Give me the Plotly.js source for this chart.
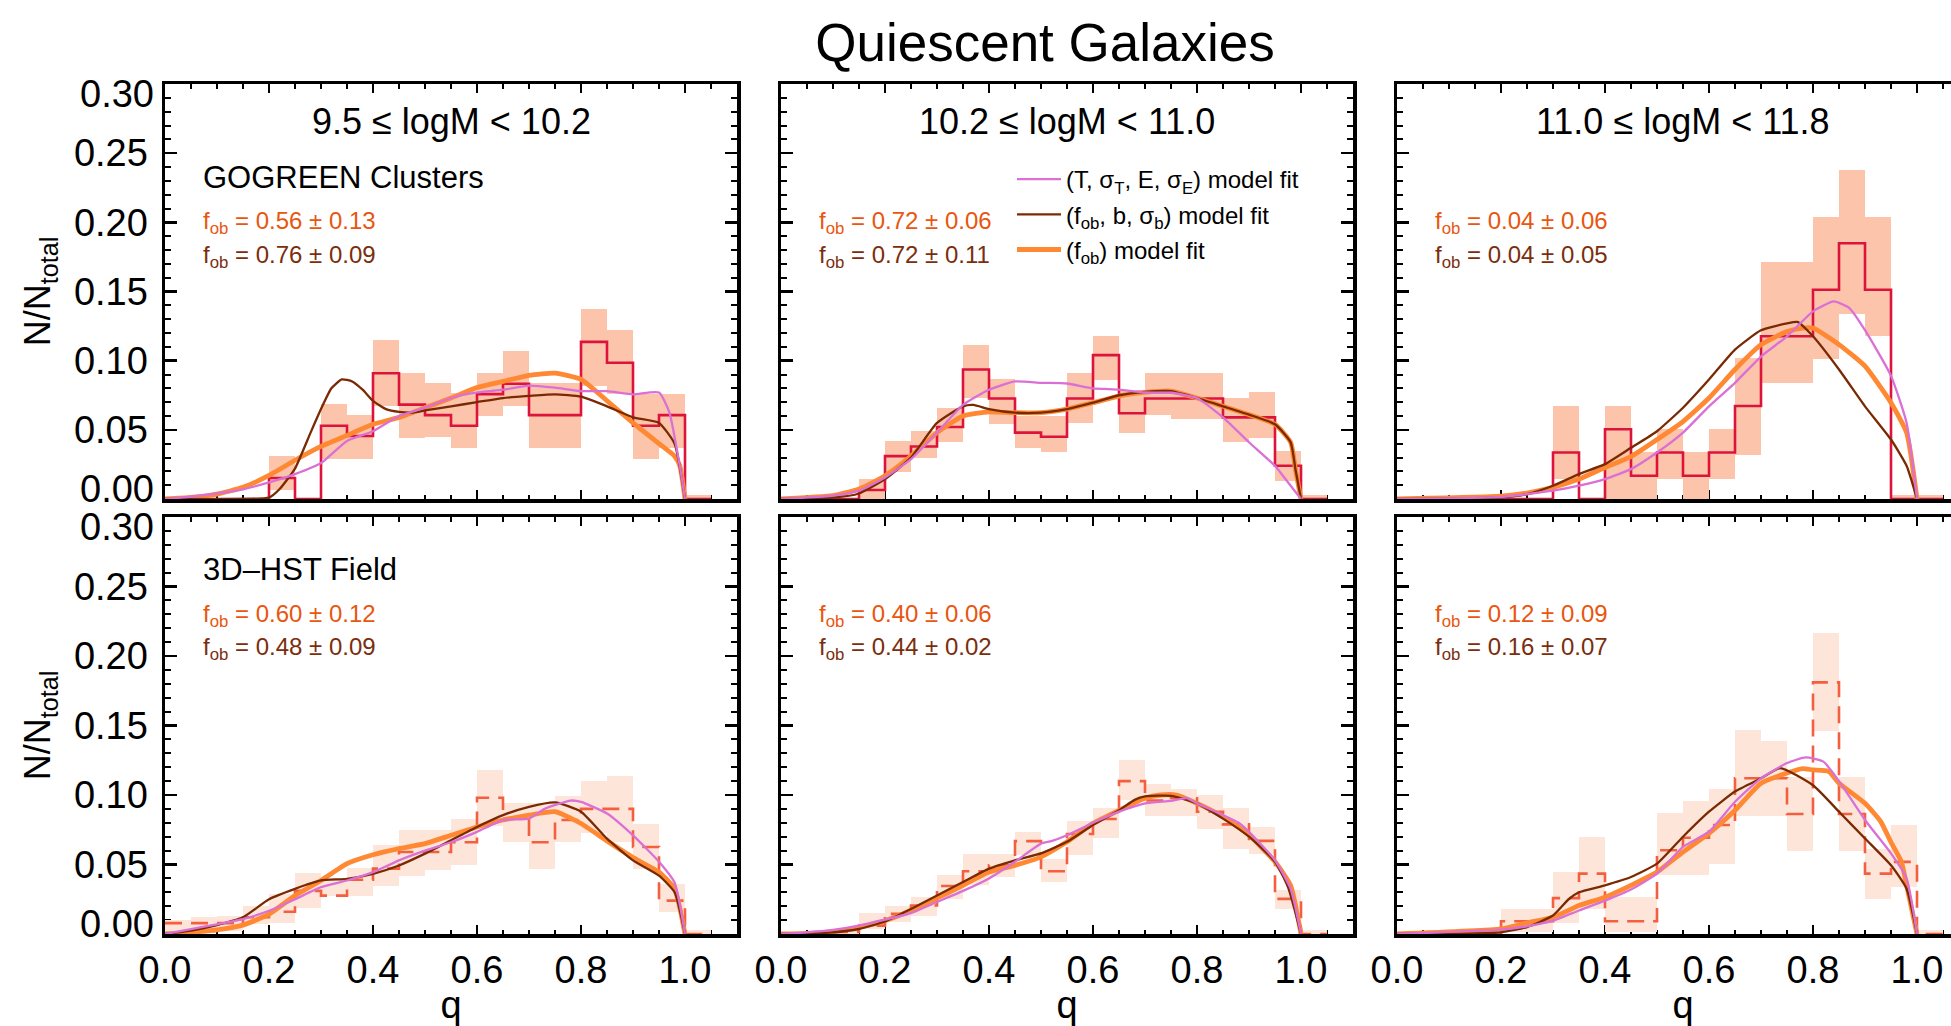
<!DOCTYPE html>
<html>
<head>
<meta charset="utf-8">
<script src="https://cdn.plot.ly/plotly-3.0.1.min.js"></script>
<style>
  html, body { margin: 0; padding: 0; overflow: hidden; background: #ffffff; }
  #chart { width: 1975px; height: 1026px; }
</style>
</head>
<body>
<div id="chart"></div>
<script>
// ---------------- data ----------------
// left edges of the axis-ratio bins (width 0.05)
const binLeft = [0.00,0.05,0.10,0.15,0.20,0.25,0.30,0.35,0.40,0.45,0.50,0.55,0.60,0.65,0.70,0.75,0.80,0.85,0.90,0.95,1.00];
const binWidth = 0.05;

const massBins = ['9.5 \u2264 logM < 10.2', '10.2 \u2264 logM < 11.0', '11.0 \u2264 logM < 11.8'];
const sampleNames = ['GOGREEN Clusters', '3D\u2013HST Field'];

// f_ob from the (f_ob) fit and from the (f_ob, b, sigma_b) fit, per panel
const fobOneParam   = [[0.56,0.13],[0.72,0.06],[0.04,0.06],[0.60,0.12],[0.40,0.06],[0.12,0.09]];
const fobThreeParam = [[0.76,0.09],[0.72,0.11],[0.04,0.05],[0.48,0.09],[0.44,0.02],[0.16,0.07]];

// ---- clusters, 9.5-10.2
const tl_hist = [0,0,0,0,0.0152,0,0.0530,0.0455,0.0909,0.0682,0.0606,0.0530,0.0758,0.0833,0.0606,0.0606,0.1136,0.0985,0.0530,0.0606,0];
const tl_lo   = [0,0,0,0,0.0065,0,0.029,0.029,0.067,0.044,0.0445,0.037,0.060,0.067,0.037,0.037,0.082,0.076,0.029,0.037,0];
const tl_hi   = [0,0,0,0,0.031,0,0.069,0.061,0.115,0.091,0.084,0.0765,0.091,0.107,0.084,0.084,0.137,0.122,0.076,0.076,0.003];
const tl_qT = [0,0.05,0.10,0.15,0.20,0.25,0.30,0.35,0.40,0.45,0.50,0.55,0.60,0.65,0.70,0.75,0.80,0.85,0.90,0.95,0.97,0.99,1.00];
const tl_T  = [0,0.0017,0.004,0.007,0.012,0.018,0.026,0.042,0.049,0.060,0.066,0.073,0.077,0.079,0.082,0.0805,0.078,0.078,0.0757,0.077,0.0625,0.024,0];
const tl_qB = [0,0.15,0.20,0.22,0.25,0.28,0.30,0.32,0.34,0.36,0.38,0.40,0.425,0.45,0.475,0.50,0.55,0.60,0.65,0.70,0.75,0.80,0.85,0.90,0.95,0.98,1.00];
const tl_B  = [0,0,0.001,0.007,0.022,0.048,0.065,0.080,0.0865,0.085,0.079,0.071,0.065,0.063,0.0625,0.064,0.067,0.070,0.073,0.0745,0.0757,0.074,0.067,0.059,0.055,0.040,0];
const tl_qO = [0,0.05,0.10,0.15,0.20,0.25,0.30,0.35,0.40,0.45,0.50,0.55,0.60,0.65,0.70,0.75,0.80,0.85,0.90,0.95,0.98,0.99,1.00];
const tl_O  = [0,0.0012,0.0036,0.0084,0.017,0.028,0.038,0.046,0.054,0.059,0.066,0.073,0.0805,0.085,0.0894,0.091,0.0865,0.071,0.055,0.040,0.031,0.024,0];

// ---- clusters, 10.2-11.0
const tm_hist = [0,0,0,0.0065,0.031,0.038,0.052,0.0936,0.0727,0.048,0.045,0.0727,0.104,0.062,0.0727,0.0727,0.0727,0.059,0.059,0.024,0];
const tm_lo   = [0,0,0,0,0.0197,0.030,0.041,0.073,0.054,0.037,0.034,0.055,0.086,0.0475,0.061,0.058,0.058,0.041,0.044,0.013,0];
const tm_hi   = [0,0,0,0.0144,0.042,0.049,0.066,0.111,0.087,0.060,0.060,0.091,0.118,0.079,0.091,0.091,0.091,0.073,0.077,0.035,0.003];
const tm_qT = [0,0.10,0.15,0.20,0.25,0.30,0.35,0.40,0.45,0.50,0.55,0.60,0.65,0.70,0.75,0.80,0.85,0.90,0.95,0.97,1.00];
const tm_T  = [0,0.0024,0.006,0.0156,0.0288,0.048,0.068,0.079,0.085,0.084,0.0835,0.080,0.079,0.077,0.0768,0.073,0.059,0.041,0.024,0.0144,0];
const tm_qB = [0,0.10,0.15,0.20,0.25,0.30,0.35,0.37,0.40,0.45,0.50,0.55,0.60,0.65,0.70,0.75,0.80,0.85,0.90,0.95,0.98,0.99,1.00];
const tm_B  = [0,0.001,0.004,0.0144,0.030,0.055,0.067,0.068,0.065,0.0624,0.0624,0.065,0.0696,0.075,0.0775,0.078,0.073,0.067,0.061,0.054,0.041,0.02,0];
const tm_qO = [0,0.10,0.15,0.20,0.25,0.30,0.35,0.40,0.45,0.50,0.55,0.60,0.65,0.70,0.75,0.80,0.85,0.90,0.95,0.98,0.99,1.00];
const tm_O  = [0,0.0024,0.0072,0.0168,0.031,0.048,0.060,0.063,0.0624,0.0624,0.065,0.0696,0.0744,0.077,0.078,0.073,0.067,0.061,0.054,0.041,0.02,0];

// ---- clusters, 11.0-11.8
const tr_hist = [0,0,0,0,0,0,0.0336,0,0.0504,0.0168,0.0336,0.0168,0.0336,0.0672,0.1176,0.1176,0.1513,0.1849,0.1513,0,0];
const tr_lo   = [0,0,0,0,0,0,0.0145,0,0,0,0.0145,0,0.0145,0.032,0.084,0.084,0.101,0.134,0.118,0,0];
const tr_hi   = [0,0,0,0,0,0,0.0675,0,0.0675,0.0337,0.0506,0.0337,0.0506,0.102,0.171,0.171,0.204,0.238,0.204,0.003,0.003];
const tr_qT = [0,0.20,0.30,0.35,0.40,0.45,0.50,0.55,0.60,0.65,0.70,0.75,0.80,0.84,0.87,0.90,0.95,0.98,1.00];
const tr_T  = [0,0.0015,0.006,0.0096,0.0144,0.0216,0.0336,0.048,0.067,0.084,0.103,0.1176,0.1356,0.1428,0.138,0.122,0.089,0.055,0];
const tr_qB = [0,0.20,0.25,0.30,0.35,0.40,0.45,0.50,0.55,0.60,0.65,0.70,0.75,0.77,0.80,0.85,0.90,0.95,0.98,1.00];
const tr_B  = [0,0.0012,0.0036,0.0096,0.018,0.0252,0.037,0.049,0.066,0.0864,0.108,0.122,0.127,0.128,0.1176,0.0936,0.067,0.043,0.024,0];
const tr_qO = [0,0.20,0.25,0.30,0.35,0.40,0.45,0.50,0.55,0.60,0.65,0.70,0.75,0.78,0.80,0.85,0.90,0.95,0.98,1.00];
const tr_O  = [0,0.002,0.0043,0.0084,0.0144,0.0228,0.0307,0.043,0.056,0.073,0.0936,0.1116,0.121,0.1236,0.1236,0.1116,0.096,0.0696,0.048,0];

// ---- field, 9.5-10.2
const bl_hist = [0.0078,0.0078,0.0078,0.012,0.016,0.031,0.0276,0.039,0.047,0.059,0.059,0.066,0.098,0.083,0.066,0.082,0.090,0.090,0.0626,0.024,0];
const bl_lo   = [0.001,0.002,0.002,0.007,0.008,0.019,0.0276,0.0276,0.0344,0.042,0.0464,0.050,0.078,0.066,0.047,0.066,0.073,0.066,0.047,0.0156,0];
const bl_hi   = [0.010,0.012,0.013,0.020,0.029,0.044,0.0385,0.0474,0.0638,0.0747,0.0747,0.0826,0.118,0.094,0.094,0.099,0.110,0.114,0.0795,0.036,0.003];
const bl_qT = [0,0.05,0.10,0.15,0.20,0.25,0.30,0.35,0.40,0.45,0.50,0.55,0.60,0.65,0.70,0.73,0.78,0.80,0.85,0.90,0.95,0.98,1.00];
const bl_T  = [0,0.0035,0.007,0.0107,0.0167,0.025,0.0337,0.0385,0.0445,0.053,0.060,0.066,0.0735,0.082,0.083,0.090,0.096,0.095,0.0867,0.071,0.052,0.037,0];
const bl_qB = [0,0.05,0.10,0.15,0.20,0.25,0.30,0.35,0.40,0.45,0.50,0.55,0.60,0.65,0.70,0.75,0.80,0.85,0.90,0.95,0.98,1.00];
const bl_B  = [0,0.0024,0.0064,0.012,0.025,0.0325,0.0385,0.0397,0.0433,0.0493,0.0578,0.0674,0.077,0.0855,0.0915,0.0947,0.088,0.0686,0.053,0.042,0.030,0];
const bl_qO = [0,0.05,0.10,0.15,0.20,0.25,0.30,0.35,0.40,0.45,0.50,0.55,0.60,0.65,0.70,0.75,0.80,0.85,0.90,0.95,0.98,1.00];
const bl_O  = [0,0.0012,0.003,0.0064,0.0143,0.0276,0.0385,0.0506,0.057,0.0614,0.065,0.071,0.077,0.082,0.0855,0.088,0.0795,0.067,0.055,0.0445,0.0325,0];

// ---- field, 10.2-11.0
const bm_hist = [0,0,0.0015,0.006,0.0145,0.0205,0.0345,0.0451,0.0494,0.0668,0.0451,0.0719,0.0827,0.110,0.096,0.0977,0.088,0.0789,0.067,0.0253,0];
const bm_lo   = [0,0,0,0.0036,0.0084,0.0133,0.0253,0.035,0.041,0.0567,0.0374,0.0567,0.0692,0.0965,0.0851,0.0851,0.0755,0.0615,0.0572,0.0181,0];
const bm_hi   = [0,0,0.003,0.0152,0.0198,0.0265,0.0427,0.0572,0.0572,0.0736,0.0543,0.0813,0.0909,0.1254,0.1078,0.1045,0.1001,0.0909,0.0772,0.0318,0.003];
const bm_qT = [0,0.05,0.10,0.15,0.20,0.25,0.30,0.35,0.40,0.45,0.50,0.52,0.55,0.60,0.65,0.70,0.75,0.78,0.80,0.85,0.88,0.90,0.95,0.98,1.00];
const bm_T  = [0,0.0012,0.003,0.006,0.0104,0.015,0.023,0.031,0.040,0.052,0.065,0.0668,0.071,0.080,0.088,0.094,0.0958,0.0977,0.094,0.0856,0.080,0.0735,0.053,0.0326,0];
const bm_qB = [0,0.10,0.15,0.20,0.25,0.30,0.35,0.40,0.45,0.50,0.55,0.60,0.65,0.68,0.70,0.75,0.80,0.85,0.90,0.95,0.975,1.00];
const bm_B  = [0,0.0012,0.0036,0.009,0.018,0.0277,0.0374,0.047,0.053,0.058,0.0663,0.0784,0.089,0.0965,0.099,0.0994,0.094,0.083,0.070,0.052,0.0338,0];
const bm_qO = [0,0.05,0.10,0.15,0.20,0.25,0.30,0.35,0.40,0.45,0.50,0.55,0.60,0.65,0.70,0.73,0.76,0.80,0.85,0.90,0.95,0.98,1.00];
const bm_O  = [0,0.0005,0.0017,0.0048,0.0096,0.0169,0.0258,0.035,0.0446,0.0494,0.0555,0.0663,0.0796,0.089,0.0977,0.100,0.100,0.094,0.0844,0.0712,0.0519,0.035,0];

// ---- field, 11.0-11.8
const br_hist = [0,0,0,0,0.0092,0.0092,0.0258,0.0434,0.0092,0.0092,0.0603,0.0692,0.0784,0.112,0.112,0.0863,0.181,0.0863,0.0434,0.0519,0];
const br_lo   = [0,0,0,0,0.0012,0.0012,0.008,0.0181,0.0012,0.0012,0.0422,0.0422,0.0507,0.0851,0.0851,0.0596,0.146,0.0596,0.0253,0.0338,0];
const br_hi   = [0,0,0,0,0.0181,0.0181,0.0446,0.070,0.0265,0.0265,0.0868,0.0958,0.1044,0.147,0.139,0.113,0.2166,0.1126,0.0615,0.0784,0.003];
const br_qT = [0,0.20,0.25,0.30,0.35,0.40,0.45,0.50,0.55,0.60,0.65,0.70,0.75,0.786,0.82,0.85,0.90,0.95,0.98,1.00];
const br_T  = [0,0.0031,0.0055,0.0096,0.0169,0.024,0.032,0.0434,0.0627,0.0736,0.0951,0.112,0.123,0.127,0.124,0.110,0.082,0.058,0.040,0];
const br_qB = [0,0.20,0.25,0.30,0.33,0.35,0.40,0.45,0.50,0.55,0.60,0.65,0.70,0.737,0.80,0.85,0.90,0.95,0.98,1.00];
const br_B  = [0,0.0012,0.005,0.0133,0.025,0.030,0.035,0.041,0.0506,0.070,0.088,0.1025,0.112,0.1194,0.107,0.088,0.0687,0.0494,0.0326,0];
const br_qO = [0,0.20,0.25,0.30,0.35,0.40,0.45,0.50,0.55,0.60,0.65,0.70,0.75,0.78,0.80,0.83,0.85,0.90,0.93,0.95,0.97,0.98,1.00];
const br_O  = [0,0.0036,0.008,0.012,0.0205,0.0265,0.035,0.0446,0.059,0.0724,0.089,0.1085,0.1158,0.119,0.118,0.117,0.1085,0.094,0.081,0.066,0.052,0.035,0];

// ---------------- figure ----------------
const FONT = '"Liberation Sans", Arial, Helvetica, sans-serif';
const W = 1975, H = 1026;
const fx = v => v / W;          // pixel -> paper x
const fy = v => 1 - v / H;      // pixel -> paper y

const colsPx = [[165, 737], [781, 1353], [1397, 1969]];
const rowsPx = [[84, 499], [517, 934]];

const C = {
  shadeTop: '#FCC4AA', shadeBot: '#FDE5D9',
  stepTop: '#DC143C',  stepBot: '#F45F40',
  violet: '#DA70D6', brown: '#7A2A02', orange: '#FF8833',
  txtOrange: '#E8560F', txtBrown: '#7B2E0E'
};

const panels = [
  {hist: tl_hist, lo: tl_lo, hi: tl_hi, qT: tl_qT, T: tl_T, qB: tl_qB, B: tl_B, qO: tl_qO, O: tl_O},
  {hist: tm_hist, lo: tm_lo, hi: tm_hi, qT: tm_qT, T: tm_T, qB: tm_qB, B: tm_B, qO: tm_qO, O: tm_O},
  {hist: tr_hist, lo: tr_lo, hi: tr_hi, qT: tr_qT, T: tr_T, qB: tr_qB, B: tr_B, qO: tr_qO, O: tr_O},
  {hist: bl_hist, lo: bl_lo, hi: bl_hi, qT: bl_qT, T: bl_T, qB: bl_qB, B: bl_B, qO: bl_qO, O: bl_O},
  {hist: bm_hist, lo: bm_lo, hi: bm_hi, qT: bm_qT, T: bm_T, qB: bm_qB, B: bm_B, qO: bm_qO, O: bm_O},
  {hist: br_hist, lo: br_lo, hi: br_hi, qT: br_qT, T: br_T, qB: br_qB, B: br_B, qO: br_qO, O: br_O}
];

const legendNames = {
  T: '(T, \u03c3<sub>T</sub>, E, \u03c3<sub>E</sub>) model fit',
  B: '(f<sub>ob</sub>, b, \u03c3<sub>b</sub>) model fit',
  O: '(f<sub>ob</sub>) model fit'
};

const traces = [];
const annotations = [];
const layout = {
  width: W, height: H,
  margin: {l: 0, r: 0, t: 0, b: 0},
  paper_bgcolor: '#ffffff', plot_bgcolor: '#ffffff',
  font: {family: FONT, color: '#000000'},
  barmode: 'overlay', bargap: 0,
  title: {
    text: 'Quiescent Galaxies',
    font: {family: FONT, size: 53, color: '#000000'},
    xref: 'paper', x: fx(1045), xanchor: 'center',
    yref: 'container', y: fy(42), yanchor: 'middle'
  },
  showlegend: true,
  legend: {
    x: fx(1012), y: fy(157), xref: 'paper', yref: 'paper',
    xanchor: 'left', yanchor: 'top',
    font: {family: FONT, size: 24, color: '#000000'},
    bgcolor: 'rgba(0,0,0,0)', borderwidth: 0,
    traceorder: 'grouped', tracegroupgap: 1, itemwidth: 44
  },
  annotations: annotations
};

const fmt = v => v.toFixed(2);

panels.forEach((p, i) => {
  const row = i < 3 ? 0 : 1;
  const col = i % 3;
  const sfx = i === 0 ? '' : String(i + 1);
  const xa = 'x' + sfx, ya = 'y' + sfx;

  // uncertainty boxes
  traces.push({
    type: 'bar', xaxis: xa, yaxis: ya,
    x: binLeft.map(b => b + binWidth / 2),
    base: p.lo,
    y: p.hi.map((h, k) => h - p.lo[k]),
    width: binWidth,
    marker: {color: row ? C.shadeBot : C.shadeTop, line: {width: 0}},
    showlegend: false, hoverinfo: 'skip'
  });

  // histogram of observed axis ratios
  const last = binLeft.length - 1;
  traces.push({
    type: 'scatter', mode: 'lines', xaxis: xa, yaxis: ya,
    x: binLeft.concat([binLeft[last] + binWidth]),
    y: p.hist.concat([p.hist[last]]),
    line: {shape: 'hv', color: row ? C.stepBot : C.stepTop, width: 2.6, dash: row ? '17px,9px' : 'solid'},
    showlegend: false, hoverinfo: 'skip'
  });

  // model curves
  const curve = (q, v, key, color, width, rank) => ({
    type: 'scatter', mode: 'lines', xaxis: xa, yaxis: ya,
    x: q, y: v,
    line: {color: color, width: width, shape: 'spline', smoothing: 0.5},
    name: legendNames[key], legendgroup: key, legendrank: rank,
    showlegend: i === 0, hoverinfo: 'skip'
  });
  traces.push(curve(p.qO, p.O, 'O', C.orange, 4.8, 3));
  traces.push(curve(p.qB, p.B, 'B', C.brown, 2.3, 2));
  traces.push(curve(p.qT, p.T, 'T', C.violet, 2.3, 1));

  const [x0, x1] = colsPx[col];
  const [y0, y1] = rowsPx[row];

  const xaxis = {
    domain: [fx(x0), fx(x1)], anchor: ya,
    range: [0, 1.1], tick0: 0, dtick: 0.2, tickformat: '.1f',
    showticklabels: row === 1,
    ticks: 'inside', ticklen: 9, tickwidth: 2.5, tickcolor: '#000',
    minor: {dtick: 0.05, tick0: 0, ticks: 'inside', ticklen: 4.5, tickwidth: 2, tickcolor: '#000'},
    showline: true, linewidth: 3.5, linecolor: '#000', mirror: 'allticks',
    showgrid: false, zeroline: false, layer: 'below traces',
    tickfont: {family: FONT, size: 38, color: '#000'},
    automargin: false, fixedrange: true
  };
  if (row === 1) {
    xaxis.title = {text: 'q', font: {family: FONT, size: 38, color: '#000'}, standoff: 31};
  }
  layout['xaxis' + sfx] = xaxis;

  const yaxis = {
    domain: [fy(y1), fy(y0)], anchor: xa,
    range: [0, 0.30],
    tickmode: 'array',
    tickvals: [0.05, 0.10, 0.15, 0.20, 0.25],
    tickformat: '.2f',
    showticklabels: col === 0,
    ticks: 'inside', ticklen: 12, tickwidth: 2.5, tickcolor: '#000',
    minor: {dtick: 0.01, tick0: 0, ticks: 'inside', ticklen: 6, tickwidth: 2, tickcolor: '#000'},
    showline: true, linewidth: 3.5, linecolor: '#000', mirror: 'allticks',
    showgrid: false, zeroline: false, layer: 'below traces',
    tickfont: {family: FONT, size: 38, color: '#000'},
    ticklabelstandoff: 6, automargin: false, fixedrange: true
  };
  if (col === 0) {
    yaxis.title = {text: 'N/N<sub>total</sub>', font: {family: FONT, size: 36, color: '#000'}, standoff: 13};
  }
  layout['yaxis' + sfx] = yaxis;

  // end labels of the y axis, kept inside the frame so neighbouring rows do not collide
  if (col === 0) {
    annotations.push({xref: 'paper', x: fx(156), xanchor: 'right', yref: ya, y: 0, yanchor: 'middle', yshift: 10,
      text: '0.00', showarrow: false, font: {family: FONT, size: 38, color: '#000'}});
    annotations.push({xref: 'paper', x: fx(156), xanchor: 'right', yref: ya, y: 0.30, yanchor: 'middle', yshift: -10,
      text: '0.30', showarrow: false, font: {family: FONT, size: 38, color: '#000'}});
  }

  // mass-bin headers on the top row
  if (row === 0) {
    annotations.push({xref: xa + ' domain', x: 0.5, xanchor: 'center', yref: 'paper', y: fy(121), yanchor: 'middle',
      text: massBins[col], showarrow: false, font: {family: FONT, size: 36, color: '#000'}});
  }

  // sample label
  const textX = fx(x0 + 36);
  if (col === 0) {
    annotations.push({xref: 'paper', x: textX, xanchor: 'left', yref: 'paper', y: fy(row ? 569 : 177), yanchor: 'middle',
      text: sampleNames[row], showarrow: false, font: {family: FONT, size: 31, color: '#000'}});
  }

  // fitted oblate fractions
  const ty1 = row ? 615 : 223, ty2 = row ? 648 : 256;
  annotations.push({xref: 'paper', x: textX, xanchor: 'left', yref: 'paper', y: fy(ty1), yanchor: 'middle',
    text: 'f<sub>ob</sub> = ' + fmt(fobOneParam[i][0]) + ' \u00b1 ' + fmt(fobOneParam[i][1]),
    showarrow: false, font: {family: FONT, size: 24, color: C.txtOrange}});
  annotations.push({xref: 'paper', x: textX, xanchor: 'left', yref: 'paper', y: fy(ty2), yanchor: 'middle',
    text: 'f<sub>ob</sub> = ' + fmt(fobThreeParam[i][0]) + ' \u00b1 ' + fmt(fobThreeParam[i][1]),
    showarrow: false, font: {family: FONT, size: 24, color: C.txtBrown}});
});

Plotly.newPlot('chart', traces, layout, {staticPlot: true, displayModeBar: false, responsive: false});
</script>
</body>
</html>
